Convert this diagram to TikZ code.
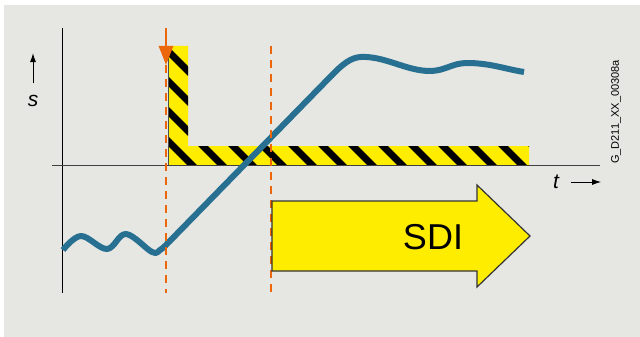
\documentclass[tikz,border=0pt]{standalone}
\usepackage{fontspec}
\setsansfont{Liberation Sans}
\usetikzlibrary{arrows.meta,positioning}

\definecolor{panelgray}{RGB}{230,231,226}
\definecolor{signalblue}{RGB}{40,112,145}
\definecolor{markorange}{RGB}{236,102,10}
\definecolor{warnyellow}{RGB}{255,237,0}

\begin{document}
\begin{tikzpicture}[
  x=1pt,
  y=-1pt,
  every node/.style={
    font=\sffamily\fontsize{21}{24}\selectfont,
    text=black,
    inner sep=0pt
  },
  axislabel/.style={
    font=\sffamily\itshape\fontsize{21}{24}\selectfont
  },
  axis/.style={
    draw=black,
    line width=0.9pt
  },
  arrow/.style={
    -{Latex[length=9pt,width=6pt]},
    draw=black,
    line width=0.9pt
  },
  marker/.style={
    draw=markorange,
    line width=2.8pt,
    dash pattern=on 8pt off 6pt
  },
  signal/.style={
    draw=signalblue,
    line width=6pt,
    line join=round
  },
  hatch/.style={
    draw=black,
    line width=7pt
  },
  bigarrow/.style={
    fill=warnyellow,
    draw=black!80,
    line width=1.2pt
  }
]
  \useasboundingbox (0,0) rectangle (640,337);
  \fill[panelgray] (4,5) rectangle (640,337);

  % striped limit band
  \fill[warnyellow] (168,46) -- (188,46) -- (188,146) -- (529,146)
    -- (529,165) -- (168,165) -- cycle;
  \begin{scope}
    \clip (168,46) -- (188,46) -- (188,146) -- (529,146)
      -- (529,165) -- (168,165) -- cycle;
    \foreach \c in {3,-27,...,-387}
      \draw[hatch] (140,{140+\c}) -- (560,{560+\c});
  \end{scope}
  \draw[draw=black!70, line width=0.8pt] (168,46) -- (168,165);

  % axes
  \coordinate (yTop) at (62,28);
  \coordinate (yBottom) at (62,293);
  \coordinate (xStart) at (52,165);
  \coordinate (xEnd) at (600,165);
  \draw[axis] (yTop) -- (yBottom);
  \draw[axis, draw=black!75] (xStart) -- (xEnd);

  \node[axislabel] (sLabel) at (33,101) {s};
  \draw[arrow] ([yshift=12pt]sLabel.north) -- ++(0,-30);
  \node[axislabel] (tLabel) at (556,182) {t};
  \draw[arrow] ([xshift=12pt]tLabel.east) -- ++(30,0);

  % signal
  \draw[signal] plot[smooth, tension=0.6] coordinates
      {(63,250) (81,236) (107,249) (126,234) (152,252) (160,250) (166,245)}
    -- (334,73) .. controls (346,61) and (354,56) .. (366,57)
    .. controls (388,58) and (408,71) .. (430,71)
    .. controls (445,71) and (452,63) .. (467,63)
    .. controls (490,63) and (505,69) .. (524,72);

  % limits
  \coordinate (startTop) at (166,28);
  \coordinate (startTip) at (166,65);
  \coordinate (startBottom) at (166,293);
  \coordinate (endTop) at (271,46);
  \coordinate (endBottom) at (271,293);
  \draw[draw=markorange, line width=2.8pt,
    -{Triangle[length=19pt,width=14pt]}] (startTop) -- (startTip);
  \draw[marker] (startTip) -- (startBottom);
  \draw[marker] (endTop) -- (endBottom);

  \draw[bigarrow] (272,201) -- (477,201) -- (477,185) -- (530,236)
    -- (477,287) -- (477,271) -- (272,271) -- cycle;
  \node[font=\sffamily\fontsize{36}{40}\selectfont] (sdi) at (433,237) {SDI};

  \node[font=\sffamily\fontsize{11}{13}\selectfont, rotate=90] (figId)
    at (616,112) {G\_D211\_XX\_00308a};
\end{tikzpicture}
\end{document}
